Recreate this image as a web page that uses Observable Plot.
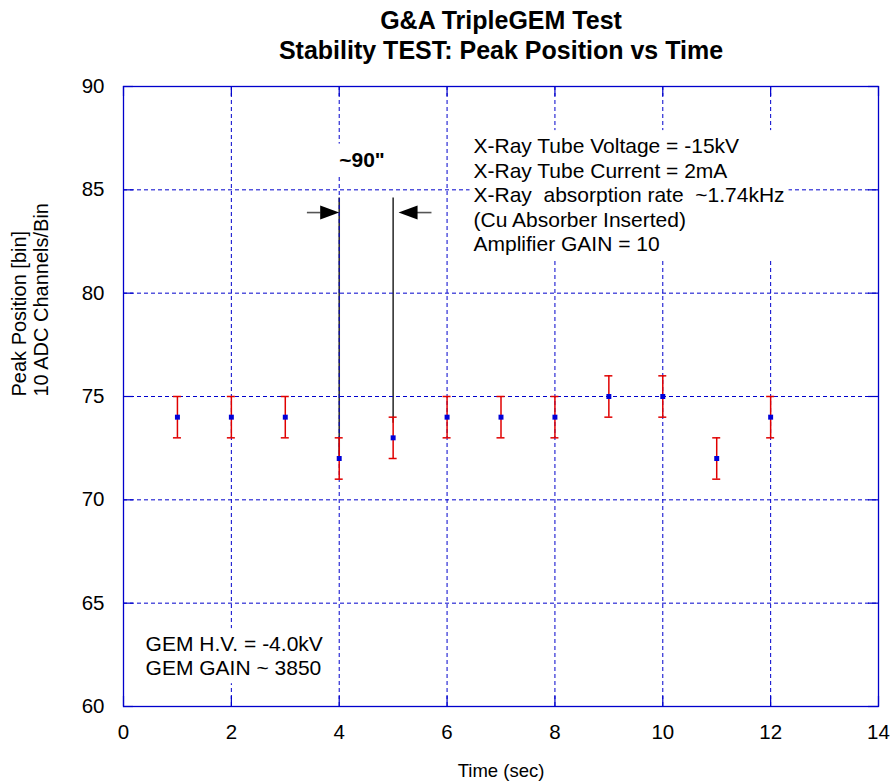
<!DOCTYPE html>
<html>
<head>
<meta charset="utf-8">
<script src="https://cdn.jsdelivr.net/npm/d3@7"></script>
<script src="https://cdn.jsdelivr.net/npm/@observablehq/plot@0.6"></script>
<style>
  html, body { margin: 0; padding: 0; background: #fff; }
  #chart svg { display: block; }
</style>
</head>
<body>
<div id="chart"></div>
<script>
// ---- data ----
const timeSec = [1, 2, 3, 4, 5, 6, 7, 8, 9, 10, 11, 12];
const peakPos = [74, 74, 74, 72, 73, 74, 74, 74, 75, 75, 72, 74];
const peakErr = [1, 1, 1, 1, 1, 1, 1, 1, 1, 1, 1, 1];
const xTicks = [0, 2, 4, 6, 8, 10, 12, 14];
const yTicks = [60, 65, 70, 75, 80, 85, 90];
const titleLines = ["G&A TripleGEM Test", "Stability TEST: Peak Position vs Time"];
const xLabel = "Time (sec)";
const yLabelLines = ["Peak Position [bin]", "10 ADC Channels/Bin"];
const infoLines = ["X-Ray Tube Voltage = -15kV", "X-Ray Tube Current = 2mA",
  "X-Ray\u00a0\u00a0absorption rate\u00a0\u00a0~1.74kHz", "(Cu Absorber Inserted)", "Amplifier GAIN = 10"];
const gemLines = ["GEM H.V. = -4.0kV", "GEM GAIN ~ 3850"];
// interval annotation (~90")
const intervalLabel = "~90\"";
const intervalMarks = [{x: 4, y1: 72, y2: 84.6}, {x: 5, y1: 73.7, y2: 84.6}];
const arrowShafts = [{x1: 3.41, x2: 3.66, y: 83.9}, {x1: 5.42, x2: 5.72, y: 83.9}];
const arrowHeads = [{x: 4.0, y: 83.9, rotate: 90}, {x: 5.1, y: 83.9, rotate: -90}];

const rows = timeSec.map((t, i) => ({t, v: peakPos[i], lo: peakPos[i] - peakErr[i], hi: peakPos[i] + peakErr[i]}));

const BLUE = "#0000cc";
const FONT = "Liberation Sans, Arial, Helvetica, sans-serif";

const triangle = {
  draw(context, l) {
    context.moveTo(0, -l);
    context.lineTo(-7, 0);
    context.lineTo(7, 0);
    context.closePath();
  }
};

const plot = Plot.plot({
  width: 891,
  height: 783,
  marginLeft: 123,
  marginRight: 13,
  marginTop: 86,
  marginBottom: 77,
  style: {fontFamily: FONT, fontSize: "20px", color: "#000", background: "#fff"},
  x: {domain: [0, 14], ticks: xTicks},
  y: {domain: [60, 90], ticks: yTicks},
  marks: [
    // interval vertical lines
    Plot.ruleX(intervalMarks, {x: "x", y1: "y1", y2: "y2", stroke: "#333", strokeWidth: 1.6}),
    // grid
    Plot.gridX(xTicks.slice(1, -1), {stroke: BLUE, strokeOpacity: 1, strokeWidth: 1, strokeDasharray: "4,3"}),
    Plot.gridY(yTicks.slice(1, -1), {stroke: BLUE, strokeOpacity: 1, strokeWidth: 1, strokeDasharray: "4,3"}),
    // inward ticks
    Plot.ruleX(xTicks, {x: d => d, y1: 60, y2: 60, insetTop: -10, stroke: BLUE, strokeWidth: 1.2}),
    Plot.ruleX(xTicks, {x: d => d, y1: 90, y2: 90, insetBottom: -10, stroke: BLUE, strokeWidth: 1.2}),
    Plot.ruleY(yTicks, {y: d => d, x1: 0, x2: 0, insetRight: -10, stroke: BLUE, strokeWidth: 1.2}),
    Plot.ruleY(yTicks, {y: d => d, x1: 14, x2: 14, insetLeft: -10, stroke: BLUE, strokeWidth: 1.2}),
    Plot.frame({stroke: BLUE, strokeWidth: 1.3}),
    // axes
    Plot.axisX(xTicks, {tickSize: 0, tickPadding: 18, fontSize: 20.5}),
    Plot.axisY(yTicks, {tickSize: 0, tickPadding: 19, fontSize: 20.5}),
    // error bars
    Plot.ruleX(rows, {x: "t", y1: "lo", y2: "hi", stroke: "#e00000", strokeWidth: 1.5}),
    Plot.ruleY(rows, {y: "hi", x1: "t", x2: "t", insetLeft: -4, insetRight: -4, stroke: "#e00000", strokeWidth: 1.5}),
    Plot.ruleY(rows, {y: "lo", x1: "t", x2: "t", insetLeft: -4, insetRight: -4, stroke: "#e00000", strokeWidth: 1.5}),
    Plot.dot(rows, {x: "t", y: "v", symbol: "square", r: 2.8, fill: "#0000d8", stroke: "none"}),
    // arrows
    Plot.ruleY(arrowShafts, {y: "y", x1: "x1", x2: "x2", stroke: "#555", strokeWidth: 1.6}),
    Plot.vector(arrowHeads, {x: "x", y: "y", rotate: "rotate", length: 19, anchor: "end", shape: triangle, fill: "#000", stroke: "none"}),
    // annotations (boxed)
    Plot.text([intervalLabel], {x: 4, y: 86.45, text: d => d, textAnchor: "start", fontWeight: "bold", fontSize: 21}),
    Plot.text([infoLines.join("\n")], {x: 6.49, y: 84.78, text: d => d, textAnchor: "start", lineAnchor: "middle", lineHeight: 1.17, fontSize: 21, fill: "#000"}),
    Plot.text([gemLines.join("\n")], {x: 0.41, y: 62.47, text: d => d, textAnchor: "start", lineAnchor: "middle", lineHeight: 1.15, fontSize: 21, fill: "#000"}),
    // titles & labels
    Plot.text([titleLines.join("\n")], {frameAnchor: "top", dy: -52, text: d => d, lineAnchor: "middle", lineHeight: 1.2, fontWeight: "bold", fontSize: 25}),
    Plot.text([xLabel], {frameAnchor: "bottom", dy: 65, text: d => d, lineAnchor: "middle", fontSize: 18.5}),
    Plot.text([yLabelLines.join("\n")], {frameAnchor: "left", dx: -94, rotate: -90, text: d => d, lineAnchor: "middle", lineHeight: 1.1, fontSize: 20})
  ]
});
document.getElementById("chart").append(plot);

// opaque white boxes behind the in-plot annotation texts (hide grid lines beneath them)
const boxed = [intervalLabel, infoLines[0], gemLines[0]];
d3.select(plot).selectAll("text").each(function () {
  const content = this.textContent;
  if (!boxed.some(s => content.startsWith(s))) return;
  const b = this.getBBox();
  const pad = 4;
  const rect = document.createElementNS("http://www.w3.org/2000/svg", "rect");
  rect.setAttribute("x", b.x - pad);
  rect.setAttribute("y", b.y - pad);
  rect.setAttribute("width", b.width + 2 * pad);
  rect.setAttribute("height", b.height + 2 * pad);
  rect.setAttribute("fill", "#fff");
  const tr = this.getAttribute("transform");
  if (tr) rect.setAttribute("transform", tr);
  this.parentNode.insertBefore(rect, this);
});
</script>
</body>
</html>
